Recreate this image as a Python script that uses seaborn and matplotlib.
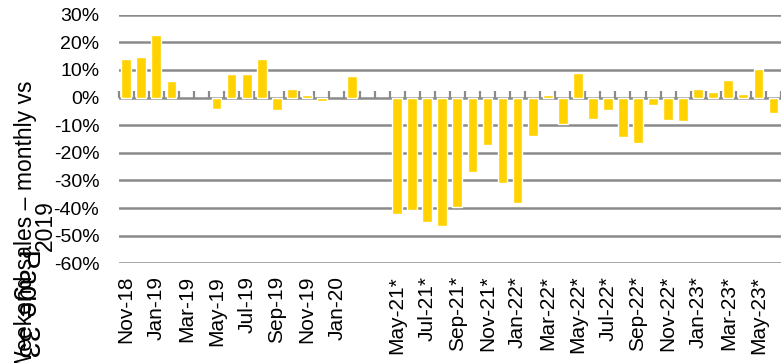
import numpy as np
import matplotlib
matplotlib.use("Agg")
import matplotlib.pyplot as plt
import seaborn as sns
from matplotlib.ticker import PercentFormatter

# monthly categories (two blank slots mark the break in the series)
months = ["Nov-18", "Dec-18", "Jan-19", "Feb-19", "Mar-19", "Apr-19", "May-19", "Jun-19",
          "Jul-19", "Aug-19", "Sep-19", "Oct-19", "Nov-19", "Dec-19", "Jan-20", "Feb-20",
          "", " ",
          "May-21*", "Jun-21*", "Jul-21*", "Aug-21*", "Sep-21*", "Oct-21*", "Nov-21*", "Dec-21*",
          "Jan-22*", "Feb-22*", "Mar-22*", "Apr-22*", "May-22*", "Jun-22*", "Jul-22*", "Aug-22*",
          "Sep-22*", "Oct-22*", "Nov-22*", "Dec-22*", "Jan-23*", "Feb-23*", "Mar-23*", "Apr-23*",
          "May-23*", "Jun-23*"]

# weekend sales, % change vs same month of 2019
sales_vs_2019 = [13.8, 14.6, 22.8, 6.1, np.nan, np.nan, -4.0, 8.4,
                 8.4, 13.9, -4.4, 3.1, 0.9, -1.4, np.nan, 7.8,
                 np.nan, np.nan,
                 -42.3, -40.7, -45.2, -46.5, -39.5, -26.8, -17.0, -31.1,
                 -38.2, -13.8, 0.9, -9.5, 8.8, -7.9, -4.4, -14.3,
                 -16.5, -2.8, -8.0, -8.6, 3.0, 2.0, 6.2, 1.3,
                 10.4, -5.7]

y_ticks = [-60, -50, -40, -30, -20, -10, 0, 10, 20, 30]
tick_labels = months[::2]

sns.set_style("white")
plt.rcParams['font.family'] = ['Liberation Sans', 'DejaVu Sans']
plt.rcParams['axes.unicode_minus'] = False

fig = plt.figure(figsize=(7.81, 3.63), dpi=100)
ax = fig.add_subplot(111)
fig.subplots_adjust(left=0.152, right=1.0, top=0.9595, bottom=0.2747)

sns.barplot(x=months, y=sales_vs_2019, order=months, color="#FFD200",
            saturation=1, width=0.65, ax=ax)

ax.set_xlim(-0.5, len(months) - 0.5)
ax.set_ylim(y_ticks[0], y_ticks[-1])
ax.set_yticks(y_ticks)
ax.yaxis.set_major_formatter(PercentFormatter(xmax=100, decimals=0))
ax.yaxis.grid(True, color="#8a8a8a", lw=1.8)
ax.set_axisbelow(True)
for s in ax.spines.values():
    s.set_visible(False)

ax.set_xticks(range(0, len(months), 2))
ax.set_xticklabels(tick_labels, rotation=90, va="top")
ax.tick_params(axis="x", length=0, pad=9, labelsize=15, colors="black")
ax.tick_params(axis="y", length=0, pad=14, labelsize=14, colors="black")
ax.set_xlabel("")

# category axis sitting on the zero line, ticks between categories
zero_pos = (0 - y_ticks[0]) / (y_ticks[-1] - y_ticks[0])
sec = ax.secondary_xaxis(zero_pos)
sec.set_xticks(np.arange(len(months) + 1) - 0.5)
sec.tick_params(axis="x", direction="out", length=5, width=1.6, color="#8a8a8a",
                labelbottom=False, labeltop=False)
sec.spines["bottom"].set_color("#808080")
sec.spines["bottom"].set_linewidth(2.6)
for side in ["top", "left", "right"]:
    sec.spines[side].set_visible(False)

ax.set_ylabel("Weekend sales \u2013 monthly vs\n2019", fontsize=16.5, color="black",
              multialignment="center", linespacing=0.85)
ax.yaxis.set_label_coords(-0.093, 0.15)

fig.text(13 / 781, 1 - 249 / 363, "Page 33", rotation=-90, ha="left", va="top",
         fontsize=21, color="black")

fig.savefig("out.png", dpi=100)
